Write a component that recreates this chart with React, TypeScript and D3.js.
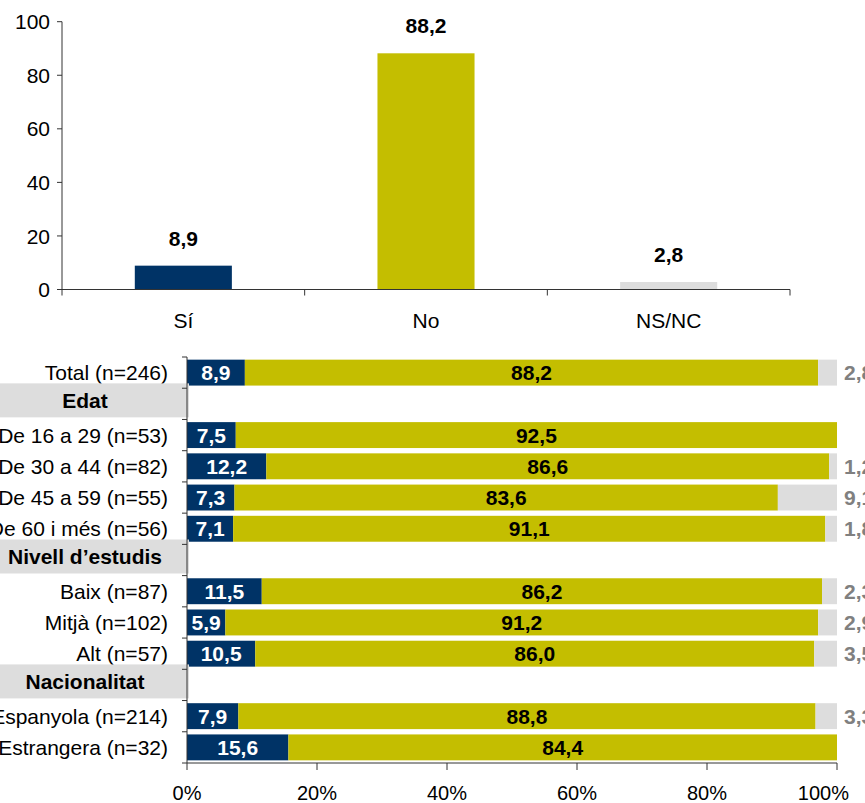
import React from "react";
import { scaleLinear, scaleBand } from "d3";

// top chart
const answers = ["Sí", "No", "NS/NC"];
const answerValues = [8.9, 88.2, 2.8];
const yTicks = [0, 20, 40, 60, 80, 100];

// bottom chart
const rowLabels = [
  "Total (n=246)",
  "Edat",
  "De 16 a 29 (n=53)",
  "De 30 a 44 (n=82)",
  "De 45 a 59 (n=55)",
  "De 60 i més (n=56)",
  "Nivell d’estudis",
  "Baix (n=87)",
  "Mitjà (n=102)",
  "Alt (n=57)",
  "Nacionalitat",
  "Espanyola (n=214)",
  "Estrangera (n=32)",
];
const headerRows = ["Edat", "Nivell d’estudis", "Nacionalitat"];
const siValues = [8.9, null, 7.5, 12.2, 7.3, 7.1, null, 11.5, 5.9, 10.5, null, 7.9, 15.6];
const noValues = [88.2, null, 92.5, 86.6, 83.6, 91.1, null, 86.2, 91.2, 86.0, null, 88.8, 84.4];
const nsValues = [2.8, null, 0, 1.2, 9.1, 1.8, null, 2.3, 2.9, 3.5, null, 3.3, 0];
const xTicks = [0, 20, 40, 60, 80, 100];

const BLUE = "#003366";
const YELLOW = "#C4BE00";
const GRAY = "#DDDDDD";
const FONT = "'Liberation Sans', Arial, sans-serif";

const fmt = (v: number) => v.toFixed(1).replace(".", ",");

export default function App() {
  const width = 865;
  const height = 803;

  // ---- top chart scales
  const topX = scaleBand<string>().domain(answers).range([62, 790]).padding(0);
  const topY = scaleLinear().domain([0, 100]).range([289.5, 21.7]);
  const barW = topX.bandwidth() * 0.4;

  // ---- bottom chart scales
  const botX = scaleLinear().domain([0, 100]).range([187, 837]);
  const botY = scaleBand<string>().domain(rowLabels).range([357, 763]).padding(0);
  const bh = botY.bandwidth() * 0.83;
  const bandEdges = rowLabels.map((r) => botY(r) as number).concat([763]);

  return (
    <div style={{ position: "fixed", left: 0, top: 0 }}>
      <svg width={width} height={height} style={{ fontFamily: FONT, display: "block" }}>
        <rect width={width} height={height} fill="white" />

        {/* top chart */}
        {answers.map((a, i) => {
          const cx = (topX(a) as number) + topX.bandwidth() / 2;
          const v = answerValues[i];
          const color = i === 0 ? BLUE : i === 1 ? YELLOW : GRAY;
          return (
            <g key={a}>
              <rect x={cx - barW / 2} y={topY(v)} width={barW} height={topY(0) - topY(v)} fill={color} />
              <text x={cx} y={topY(v) - 20} textAnchor="middle" fontSize={21} fontWeight="bold">
                {fmt(v)}
              </text>
              <text x={cx} y={328} textAnchor="middle" fontSize={21}>
                {a}
              </text>
            </g>
          );
        })}
        <line x1={62} x2={62} y1={topY(100)} y2={topY(0)} stroke="#333" />
        <line x1={62} x2={790} y1={topY(0)} y2={topY(0)} stroke="#333" />
        {yTicks.map((t) => (
          <g key={t}>
            <line x1={57} x2={62} y1={topY(t)} y2={topY(t)} stroke="#333" />
            <text x={50} y={topY(t)} dy="0.36em" textAnchor="end" fontSize={21}>
              {t}
            </text>
          </g>
        ))}
        {answers.map((a) => (topX(a) as number)).concat([790]).map((x, i) => (
          <line key={i} x1={x} x2={x} y1={topY(0)} y2={topY(0) + 6} stroke="#333" />
        ))}

        {/* bottom chart */}
        {rowLabels.map((r, i) => {
          const y0 = botY(r) as number;
          const cy = y0 + botY.bandwidth() / 2;
          if (headerRows.includes(r)) {
            return (
              <g key={r}>
                <rect x={-20} y={cy - 20.5} width={209} height={34} fill={GRAY} />
                <text x={85} y={cy - 3.5} dy="0.36em" textAnchor="middle" fontSize={21} fontWeight="bold">
                  {r}
                </text>
              </g>
            );
          }
          const si = siValues[i] as number;
          const no = noValues[i] as number;
          const ns = nsValues[i] as number;
          const by = cy - bh / 2;
          return (
            <g key={r}>
              <text x={168} y={cy} dy="0.36em" textAnchor="end" fontSize={21}>
                {r}
              </text>
              <rect x={botX(0)} y={by} width={botX(si) - botX(0)} height={bh} fill={BLUE} />
              <rect x={botX(si)} y={by} width={botX(si + no) - botX(si)} height={bh} fill={YELLOW} />
              {ns > 0 && (
                <rect x={botX(si + no)} y={by} width={botX(100) - botX(si + no)} height={bh} fill={GRAY} />
              )}
              <text x={(botX(0) + botX(si)) / 2} y={cy} dy="0.36em" textAnchor="middle" fontSize={21} fontWeight="bold" fill="white">
                {fmt(si)}
              </text>
              <text x={(botX(si) + botX(si + no)) / 2} y={cy} dy="0.36em" textAnchor="middle" fontSize={21} fontWeight="bold" fill="black">
                {fmt(no)}
              </text>
              {ns > 0 && (
                <text x={844} y={cy} dy="0.36em" textAnchor="start" fontSize={21} fontWeight="bold" fill="#808080">
                  {fmt(ns)}
                </text>
              )}
            </g>
          );
        })}
        <line x1={187} x2={187} y1={357} y2={763} stroke="#333" />
        {bandEdges.map((y, i) => (
          <line key={i} x1={182} x2={187} y1={y} y2={y} stroke="#333" />
        ))}
        <line x1={187} x2={837} y1={763} y2={763} stroke="#333" />
        {xTicks.map((t, i) => {
          const last = i === xTicks.length - 1;
          return (
            <g key={t}>
              <line x1={botX(t)} x2={botX(t)} y1={763} y2={770} stroke="#333" />
              <text
                x={last ? 849 : botX(t)}
                y={793}
                dy="0.36em"
                textAnchor={last ? "end" : "middle"}
                fontSize={20}
              >
                {t}%
              </text>
            </g>
          );
        })}
      </svg>
    </div>
  );
}
